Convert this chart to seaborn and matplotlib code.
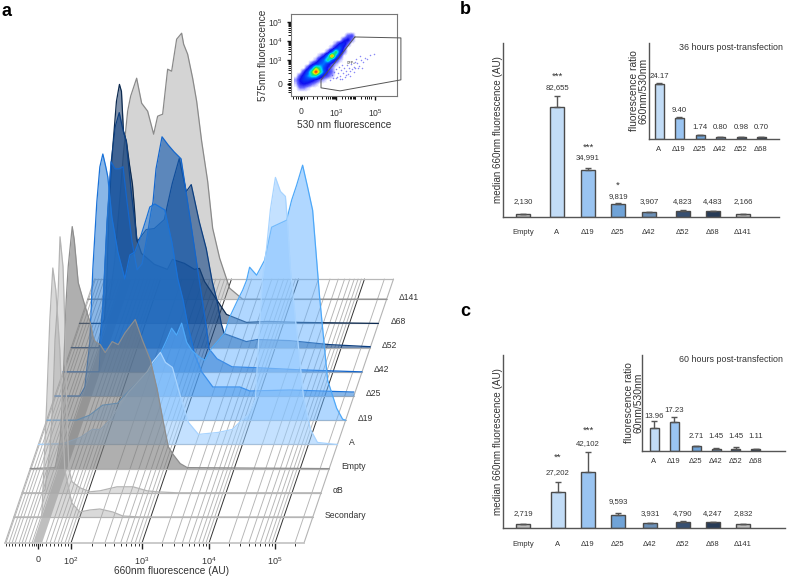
import matplotlib
matplotlib.use("Agg")
import matplotlib.pyplot as plt
import numpy as np
import seaborn as sns
from matplotlib.colors import LinearSegmentedColormap

# ---- panel a: ridge data, channel position along the row and height of each curve
ridge_names = ["Secondary", "αB", "Empty", "A", "Δ19", "Δ25", "Δ42", "Δ52", "Δ68", "Δ141"]

secondary_ch = [0, 23, 28, 30, 33, 36, 39, 42, 46, 48, 51, 58, 66, 76, 86, 99, 109, 126, 299]
secondary_h = [0, 0, 0, 47, 117, 197, 249, 227, 167, 117, 47, 14, 5, 7, 8, 5, 1, 0, 0]
ab_ch = [0, 20, 23, 28, 31, 33, 36, 38, 41, 43, 45, 47, 50, 58, 68, 78, 95, 111, 125, 135, 155, 299]
ab_h = [0, 0, 3, 43, 93, 153, 196, 256, 226, 163, 73, 23, 11, 5, 1, 2, 6, 6, 2, 1, 0, 0]
empty_ch = [0, 25, 30, 33, 36, 38, 42, 44, 48, 52, 55, 60, 63, 65, 70, 75, 82, 88, 95, 105, 112,
            120, 127, 133, 138, 143, 150, 157, 299]
empty_h = [0, 1, 29, 89, 169, 202, 242, 229, 186, 172, 162, 146, 131, 127, 124, 116, 127, 124,
           136, 149, 129, 109, 79, 47, 22, 14, 5, 1, 0]
a_ch = [0, 25, 42, 54, 62, 72, 90, 109, 114, 122, 127, 134, 142, 150, 160, 180, 194, 202, 210,
        217, 220, 224, 228, 232, 237, 242, 247, 249, 252, 257, 259, 265, 272, 279, 297, 299]
a_h = [0, 1, 7, 15, 15, 25, 52, 73, 82, 92, 82, 77, 48, 22, 10, 12, 15, 23, 30, 45, 100, 165,
       195, 235, 267, 253, 248, 223, 175, 125, 108, 48, 15, 2, 0, 0]
d19_ch = [0, 30, 43, 56, 71, 78, 88, 103, 113, 120, 125, 130, 135, 140, 145, 153, 158, 165, 178,
          183, 191, 196, 200, 203, 210, 218, 225, 240, 245, 250, 256, 261, 266, 273, 281, 290, 296, 299]
d19_h = [0, 0, 5, 15, 17, 25, 35, 50, 65, 80, 92, 85, 97, 78, 70, 63, 60, 72, 87, 103, 120, 130,
         140, 153, 145, 160, 193, 200, 220, 235, 255, 233, 210, 123, 40, 12, 1, 0]
d25_ch = [0, 25, 30, 35, 38, 42, 45, 48, 51, 53, 57, 63, 70, 75, 80, 85, 92, 95, 100, 110, 117,
          123, 128, 133, 140, 147, 158, 185, 195, 235, 297, 299]
d25_h = [0, 0, 9, 54, 127, 194, 229, 242, 229, 219, 179, 144, 117, 141, 144, 157, 179, 189, 192,
         186, 154, 117, 97, 71, 41, 24, 9, 9, 5, 6, 4, 4]
d42_ch = [0, 36, 40, 44, 48, 52, 56, 60, 64, 69, 74, 79, 84, 88, 90, 93, 99, 105, 111, 118, 123,
          128, 136, 138, 143, 146, 154, 169, 196, 236, 297, 299]
d42_h = [0, 0, 70, 150, 210, 203, 203, 205, 170, 130, 102, 108, 135, 160, 170, 203, 235, 227,
         220, 213, 180, 147, 93, 80, 47, 23, 13, 5, 4, 2, 0, 0]
d52_ch = [0, 28, 32, 36, 40, 44, 48, 51, 55, 60, 66, 75, 83, 93, 101, 108, 115, 120, 128, 135,
          141, 146, 150, 153, 175, 186, 218, 258, 297, 299]
d52_h = [0, 0, 46, 126, 186, 221, 235, 221, 206, 156, 106, 118, 119, 128, 164, 189, 156, 163,
         126, 99, 66, 46, 24, 14, 6, 8, 7, 3, 1, 1]
d68_ch = [0, 23, 25, 27, 30, 33, 37, 40, 42, 44, 47, 50, 53, 55, 57, 62, 75, 88, 93, 105, 115,
          120, 125, 137, 147, 167, 188, 220, 297, 299]
d68_h = [0, 0, 4, 32, 122, 172, 222, 239, 232, 192, 182, 159, 139, 115, 85, 70, 59, 54, 64, 60,
         54, 55, 42, 24, 9, 1, 2, 1, 0, 0]
d141_ch = [0, 22, 27, 32, 36, 40, 43, 49, 54, 60, 66, 70, 75, 80, 84, 89, 94, 96, 100, 105, 109,
           114, 120, 125, 132, 142, 155, 299]
d141_h = [0, 0, 38, 98, 148, 188, 203, 221, 196, 188, 165, 183, 185, 230, 228, 260, 266, 255,
          245, 221, 198, 158, 118, 71, 41, 11, 0, 0]

ridge_ch = [secondary_ch, ab_ch, empty_ch, a_ch, d19_ch, d25_ch, d42_ch, d52_ch, d68_ch, d141_ch]
ridge_h = [secondary_h, ab_h, empty_h, a_h, d19_h, d25_h, d42_h, d52_h, d68_h, d141_h]

ridge_fill = ["#a0a0a0", "#a0a0a0", "#7a7a7a", "#94caff", "#62b0ff",
              "#2a7cd4", "#1358ac", "#154684", "#1a3b68", "#a0a0a0"]
ridge_alpha = [0.4, 0.35, 0.6, 0.55, 0.5, 0.55, 0.62, 0.6, 0.55, 0.45]
ridge_line = ["#b4b4b4", "#b4b4b4", "#8e8e8e", "#a8d4ff", "#4ea8f8",
              "#1a72d8", "#1466cc", "#0d3f80", "#0c2a50", "#8a8a8a"]

decade_ch = [66, 137, 204, 270]
decade_labels = ["$10^{2}$", "$10^{3}$", "$10^{4}$", "$10^{5}$"]
zero_ch = 33
low_ch = [1, 4, 7, 10, 14, 17, 20, 24, 27, 41, 45, 49, 53, 56, 60, 63]

# ---- inset scatter: gridded event density, sparse events and the gate
density = [
    [0, 0, 0, 0, 0, 0, 0, 0, 0, 0, 0, 0, 0, 0, 0, 0],
    [0, 0, 0, 0, 0, 0, 0, 0, 0, 0, 0, 0, 0, 0.7, 0.9, 0],
    [0, 0, 0, 0, 0, 0, 0, 0, 0, 0, 0, 0, 1, 1.3, 0.5, 0],
    [0, 0, 0, 0, 0, 0, 0, 0, 0, 0, 0.5, 1.4, 1.6, 0.6, 0, 0],
    [0, 0, 0, 0, 0, 0, 0, 0, 0, 0.5, 1.5, 2.4, 1, 0, 0, 0],
    [0, 0, 0, 0, 0, 0, 0, 0, 0.7, 2.2, 5, 2, 0.6, 0, 0, 0],
    [0, 0, 0, 0, 0, 0, 0.4, 1.2, 3, 8, 3, 1, 0, 0, 0, 0],
    [0, 0, 0, 0, 0, 0.4, 1.5, 2.5, 4.5, 2.4, 1, 0.3, 0, 0, 0, 0],
    [0, 0, 0, 0, 0.8, 1.5, 2.4, 2.6, 1.6, 0.8, 0.3, 0, 0, 0, 0, 0],
    [0, 0, 0, 1, 2.5, 5.5, 4, 2, 1, 0.5, 0, 0, 0, 0, 0, 0],
    [0, 0, 1, 2.2, 5, 9, 5, 2.2, 1, 0.6, 0, 0, 0, 0, 0, 0],
    [0, 0.8, 1.6, 2.8, 3.8, 3.8, 2, 1, 0.7, 0.3, 0, 0, 0, 0, 0, 0],
    [0.4, 1.2, 1.7, 1.8, 1.5, 1, 0.5, 0.3, 0, 0, 0, 0, 0, 0, 0, 0],
    [0.2, 1, 1.2, 1, 0.6, 0.3, 0, 0, 0, 0, 0, 0, 0, 0, 0, 0],
    [0, 0.5, 0.5, 0.2, 0, 0, 0, 0, 0, 0, 0, 0, 0, 0, 0, 0],
    [0, 0, 0, 0, 0, 0, 0, 0, 0, 0, 0, 0, 0, 0, 0, 0],
]
event_x = [2.7, 2.8, 2.9, 3.0, 3.0, 3.1, 3.15, 3.2, 3.25, 3.3, 3.35, 3.4, 3.45, 3.5, 3.55, 3.6,
           3.65, 3.7, 3.75, 3.8, 3.9, 3.95, 4.0, 4.1, 4.2, 4.3, 4.4, 4.5, 4.6, 4.75, 4.95, 3.3,
           3.5, 3.7, 3.9, 2.85, 3.05, 3.2, 4.15, 4.35, 4.05, 4.25]
event_y = [1.95, 2.2, 2.35, 2.05, 2.5, 2.3, 2.65, 2.15, 2.45, 2.75, 2.3, 2.55, 2.1, 2.4, 2.75,
           2.25, 2.6, 2.4, 2.8, 2.5, 2.65, 2.9, 2.55, 2.85, 2.7, 3.0, 2.9, 3.1, 3.05, 3.25, 3.3,
           2.0, 2.2, 2.15, 2.35, 2.05, 2.1, 2.0, 2.55, 2.6, 3.05, 3.2]
gate_x = [3.97, 6.33, 6.33, 3.21, 2.23, 2.23, 3.05, 3.97]
gate_y = [4.21, 4.16, 1.95, 1.37, 1.53, 1.95, 3.0, 4.21]

# ---- panels b and c
main_names = ["Empty", "A", "Δ19", "Δ25", "Δ42", "Δ52", "Δ68", "Δ141"]
inset_names = ["A", "Δ19", "Δ25", "Δ42", "Δ52", "Δ68"]
main_colors = ["#bdbdbd", "#b9dcff", "#8cc4ff", "#5fa3e8", "#5f8fc4", "#2d4f7c", "#1e3a5f", "#bdbdbd"]
inset_colors = main_colors[1:7]

b_values = [2130, 82655, 34991, 9819, 3907, 4823, 4483, 2166]
b_errors = [150, 8250, 2000, 400, 200, 250, 200, 100]
b_labels = ["2,130", "82,655", "34,991", "9,819", "3,907", "4,823", "4,483", "2,166"]
b_stars = ["", "***", "***", "*", "", "", "", ""]
b_label_px = [15, 129.3, 59, 20.7, 15, 15, 15, 15]
b_star_px = [0, 142.7, 71, 33, 0, 0, 0, 0]
b_ratio = [24.17, 9.40, 1.74, 0.80, 0.98, 0.70]
b_ratio_err = [0.7, 0.4, 0.1, 0.1, 0.1, 0.05]
b_ratio_labels = ["24.17", "9.40", "1.74", "0.80", "0.98", "0.70"]
b_ratio_label_px = [62, 29, 11.7, 11.7, 11.7, 11.7]

c_values = [2719, 27202, 42102, 9593, 3931, 4790, 4247, 2832]
c_errors = [100, 7450, 14400, 1700, 100, 250, 100, 100]
c_labels = ["2,719", "27,202", "42,102", "9,593", "3,931", "4,790", "4,247", "2,832"]
c_stars = ["", "**", "***", "", "", "", "", ""]
c_label_px = [14.7, 55, 84.3, 26, 14.7, 14.7, 14.7, 14.7]
c_star_px = [0, 72, 99.3, 0, 0, 0, 0, 0]
c_ratio = [13.96, 17.23, 2.71, 1.45, 1.45, 1.11]
c_ratio_err = [3.8, 3.0, 0.3, 0.2, 0.9, 0.1]
c_ratio_labels = ["13.96", "17.23", "2.71", "1.45", "1.45", "1.11"]
c_ratio_label_px = [35, 40, 14, 14, 14, 14]

sns.set_theme(style="white")
plt.rcParams["font.family"] = ["Liberation Sans", "DejaVu Sans"]
plt.rcParams["mathtext.default"] = "regular"

W, H = 787, 578
TEXT = "#333333"
SLOPE = 0.339
fig = plt.figure(figsize=(W / 100, H / 100), dpi=100)


def px_axes(left, top, right, bottom):
    a = fig.add_axes([left / W, 1 - bottom / H, (right - left) / W, (bottom - top) / H])
    a.patch.set_alpha(0)
    return a


# ---- panel a
ax = px_axes(0, 0, 420, 578)
ax.set_xlim(-5, 415)
ax.set_ylim(-35, 543)
for s in ["top", "left", "right"]:
    ax.spines[s].set_visible(False)
ax.set_yticks([])

row_base = [26 + 24.2 * k for k in range(10)]
back = 264

for k in range(9, -1, -1):
    shift = SLOPE * row_base[k]
    xs = np.array(ridge_ch[k]) + shift
    ys = row_base[k] + np.array(ridge_h[k])
    ax.fill_between(xs, row_base[k], ys, color=ridge_fill[k], alpha=ridge_alpha[k],
                    lw=0, zorder=10 - k)
    ax.plot(xs, ys, color=ridge_line[k], lw=0.9, zorder=10.5 - k)
    ax.text(299 + shift + 12, row_base[k] + 2, ridge_names[k], fontsize=6.2, color=TEXT,
            ha="left", va="center", zorder=40)

# floor of the plot sits under the curves
minors = []
for i, d in enumerate(decade_ch):
    step = decade_ch[i + 1] - d if i < 3 else 66
    for m in range(2, 10):
        c = d + step * np.log10(m)
        if c <= 299:
            minors.append(c)
for c in low_ch + minors:
    ax.plot([c, c + SLOPE * back], [0, back], color="#b4b4b4", lw=0.65, zorder=0.4)
for c in decade_ch:
    ax.plot([c, c + SLOPE * back], [0, back], color="#333333", lw=0.7, zorder=0.5)
for c in [0, 299]:
    ax.plot([c, c + SLOPE * back], [0, back], color="#b4b4b4", lw=0.8, zorder=0.4)
ax.fill([28, 37, 37 + SLOPE * back, 28 + SLOPE * back], [0, 0, back, back],
        color="#8c8c8c", alpha=0.55, lw=0, zorder=0.3)
for y in row_base + [back]:
    ax.plot([SLOPE * y, 299 + SLOPE * y], [y, y], color="#b8b8b8", lw=0.9, zorder=0.6)

ax.spines["bottom"].set_position(("data", 0))
ax.spines["bottom"].set_bounds(0, 299)
ax.spines["bottom"].set_color("#c4c4c4")
ax.set_xticks([zero_ch] + decade_ch, ["0"] + decade_labels, fontsize=6.5, color=TEXT)
ax.set_xticks(low_ch + minors + [29, 31, 35, 37], minor=True)
ax.tick_params(axis="x", which="major", length=4, width=1, color="#222222", bottom=True, pad=5)
ax.tick_params(axis="x", which="minor", length=2, width=0.7, color="#333333", bottom=True)
ax.text(166, -28, "660nm fluorescence (AU)", fontsize=7.3, color=TEXT, ha="center", va="center")

# ---- scatter inset of panel a
sc = px_axes(291, 14, 397, 96)
rainbow = LinearSegmentedColormap.from_list(
    "flow", [(0, "#ffffff"), (0.06, "#6a6aff"), (0.13, "#1010f0"), (0.27, "#0060ff"), (0.38, "#00d8ff"),
             (0.52, "#20e060"), (0.68, "#f0f000"), (0.84, "#ff8000"), (1, "#f00000")])
sc.imshow(np.array(density), cmap=rainbow, vmin=0, vmax=9, interpolation="bilinear",
          extent=[0.85, 4.13, 1.21, 4.58], aspect="auto", zorder=1)
sc.set_xlim(0.69, 6.13)
sc.set_ylim(1.1, 5.42)
sns.scatterplot(x=event_x, y=event_y, ax=sc, s=1.2, color="#3a3af0", alpha=0.6, linewidth=0, zorder=2)
sc.plot(gate_x, gate_y, color="#555555", lw=0.7, clip_on=False, zorder=3)
sc.text(3.8, 2.85, "GFP+", fontsize=2.5, color="#333333", ha="center", va="center", zorder=4)
for s in sc.spines.values():
    s.set_color("#777777")
    s.set_linewidth(0.8)
sc.set_xticks([1.2, 3, 5], ["0", "$10^{3}$", "$10^{5}$"], fontsize=6.2, color=TEXT)
sc.set_yticks([1.74, 3, 4, 5], ["0", "$10^{3}$", "$10^{4}$", "$10^{5}$"], fontsize=6.2, color=TEXT)
sc.set_xticks([0.8, 0.95, 1.05, 1.15, 1.25, 1.35, 1.5, 1.8, 2, 2.3, 2.48, 2.6, 2.7, 2.78, 2.85,
               2.9, 2.95, 3.3, 3.48, 3.6, 3.7, 3.78, 3.85, 3.9, 3.95, 4, 4.3, 4.48, 4.6, 4.7, 4.78], minor=True)
sc.set_yticks([1.3, 1.4, 1.5, 1.6, 1.7, 1.8, 1.9, 2.0, 2.3, 2.48, 2.6, 2.7, 2.78, 2.85, 2.9, 2.95,
               3.3, 3.48, 3.6, 3.7, 3.78, 3.85, 3.9, 3.95, 4.3, 4.48, 4.6, 4.7, 4.78, 4.85, 4.9, 4.95], minor=True)
sc.tick_params(axis="both", which="major", length=3, width=1, color="#111111", bottom=True, left=True, pad=3)
sc.tick_params(axis="x", which="major", pad=5)
sc.tick_params(axis="both", which="minor", length=2, width=0.7, color="#111111", bottom=True, left=True)
sc.set_xlabel("530 nm fluorescence", fontsize=7.3, color=TEXT, labelpad=1)
sc.set_ylabel("575nm fluorescence", fontsize=7.3, color=TEXT, labelpad=0)


# ---- bar panels
def bars(rect, pos, names, values, errors, colors, width, cap=2.5):
    a = px_axes(*rect)
    sns.barplot(x=pos, y=values, hue=names, palette=dict(zip(names, colors)), native_scale=True,
                dodge=False, width=width, edgecolor="#4a4a4a", linewidth=1.0, legend=False, ax=a)
    a.errorbar(pos, values, yerr=[np.zeros(len(errors)), errors], fmt="none", ecolor="#555555",
               elinewidth=1, capsize=cap, capthick=1, zorder=1)
    return a


def finish(a, rect, pos, names, top_value, top_px, labels, label_px, pad, stars=None, star_px=None):
    unit = top_value / top_px
    a.set_xlim(0, rect[2] - rect[0])
    a.set_ylim(0, top_value)
    a.set_xticks(pos, names, fontsize=5.5, color=TEXT)
    a.set_yticks([])
    a.set_xlabel("")
    a.set_ylabel("")
    a.tick_params(axis="x", length=0, pad=pad)
    for s in ["top", "right"]:
        a.spines[s].set_visible(False)
    for s in ["left", "bottom"]:
        a.spines[s].set_color("#555555")
        a.spines[s].set_linewidth(1)
    for i, p in enumerate(pos):
        a.text(p, label_px[i] * unit, labels[i], fontsize=5.6, color=TEXT, ha="center", va="center")
        if stars and stars[i]:
            a.text(p, (star_px[i] - 1.5) * unit, stars[i], fontsize=6.8, color=TEXT, ha="center", va="center")


def panel(main_rect, main_pos, values, errors, labels, label_px, stars, star_px,
          inset_rect, inset_pos, ratio, ratio_err, ratio_labels, ratio_px, scale_main, scale_inset, title, ylab,
          inset_pad):
    a = bars(main_rect, main_pos, main_names, values, errors, main_colors, 0.483)
    h = main_rect[3] - main_rect[1]
    finish(a, main_rect, main_pos, main_names, h / scale_main, h, labels, label_px, 9, stars, star_px)
    a.set_ylabel("median 660nm fluorescence (AU)", fontsize=7.1, color=TEXT, labelpad=0)
    b = bars(inset_rect, inset_pos, inset_names, ratio, ratio_err, inset_colors, 0.45, cap=2)
    h2 = inset_rect[3] - inset_rect[1]
    finish(b, inset_rect, inset_pos, inset_names, h2 / scale_inset, h2, ratio_labels, ratio_px, 5)
    b.set_ylabel(ylab, fontsize=7.4, color=TEXT, labelpad=inset_pad, linespacing=0.95)
    b.text(783 - inset_rect[0], (h2 - 4) / scale_inset, title, fontsize=6.4, color=TEXT,
           ha="right", va="center")


panel((503, 43, 779, 217), [20, 54, 85, 115, 146, 180, 210, 240], b_values, b_errors, b_labels, b_label_px,
      b_stars, b_star_px, (649, 43, 779, 139), [10, 30, 51, 71, 92, 112], b_ratio, b_ratio_err,
      b_ratio_labels, b_ratio_label_px, 0.00133, 2.26, "36 hours post-transfection",
      "fluorescence ratio\n660nm/530nm", 0.5)
panel((503, 355, 785, 528), [20, 55, 85, 115, 147, 180, 210, 240], c_values, c_errors, c_labels, c_label_px,
      c_stars, c_star_px, (642, 355, 785, 451), [12, 32, 54, 74, 94, 114], c_ratio, c_ratio_err,
      c_ratio_labels, c_ratio_label_px, 0.00134, 1.67, "60 hours post-transfection",
      "fluorescence ratio\n60nm/530nm", -1)

fig.text(2 / W, 1 - 11 / H, "a", fontsize=13, fontweight="bold", color="black", va="center")
fig.text(460 / W, 1 - 10 / H, "b", fontsize=13, fontweight="bold", color="black", va="center")
fig.text(460 / W, 1 - 311 / H, "c", fontsize=13, fontweight="bold", color="black", va="center")

fig.savefig("out.png", dpi=100)
